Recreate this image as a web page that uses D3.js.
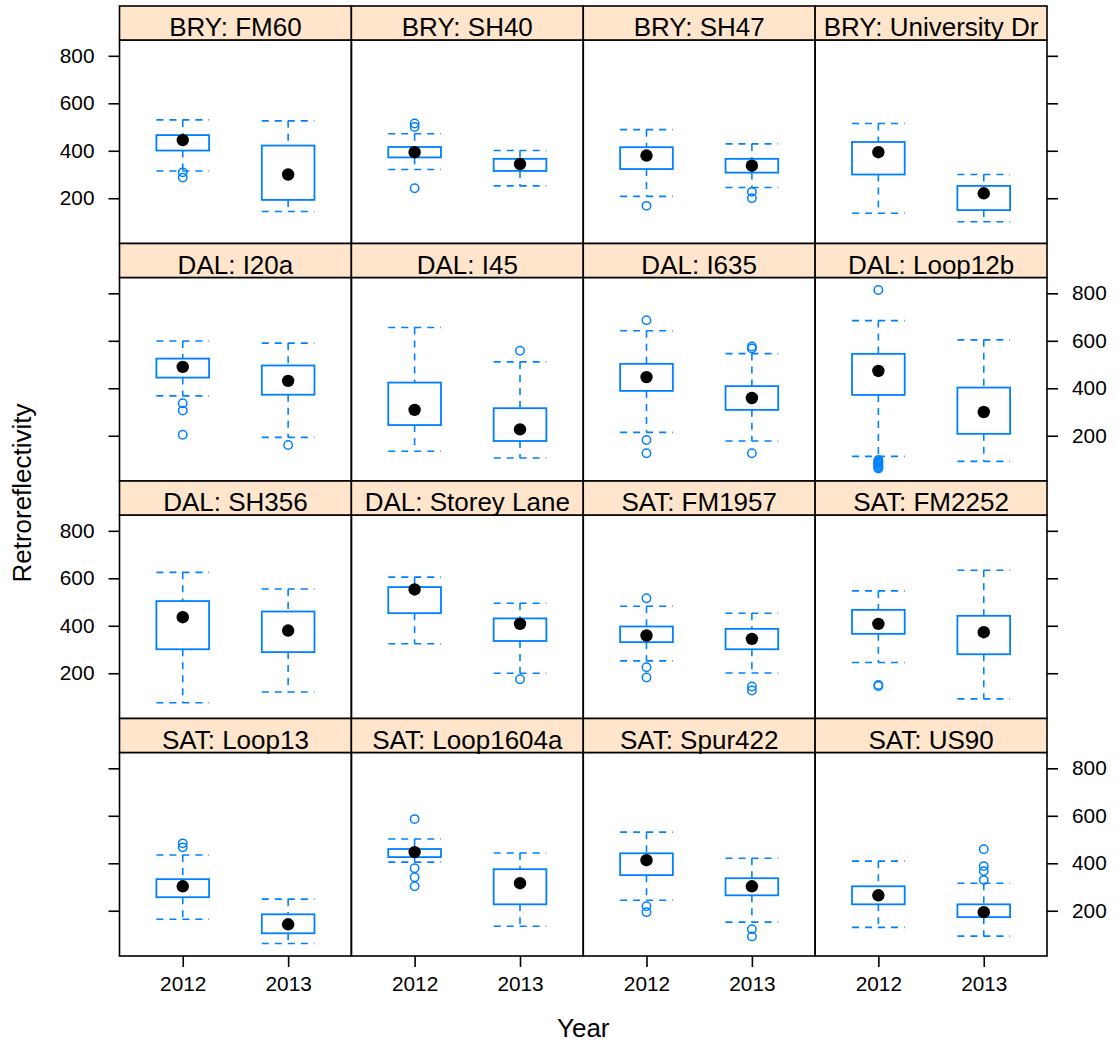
<!DOCTYPE html>
<html>
<head>
<meta charset="utf-8">
<script src="https://cdn.jsdelivr.net/npm/d3@7"></script>
<style>
  body { margin: 0; background: #fff; }
  svg { display: block; }
  text { font-family: "Liberation Sans", Arial, Helvetica, sans-serif; fill: #000; }
</style>
</head>
<body>
<svg id="chart" width="1119" height="1046"></svg>
<script>
// Sites, in panel order (left to right, top to bottom)
const sites = [
  "BRY: FM60", "BRY: SH40", "BRY: SH47", "BRY: University Dr",
  "DAL: I20a", "DAL: I45", "DAL: I635", "DAL: Loop12b",
  "DAL: SH356", "DAL: Storey Lane", "SAT: FM1957", "SAT: FM2252",
  "SAT: Loop13", "SAT: Loop1604a", "SAT: Spur422", "SAT: US90"
];
const years = ["2012", "2013"];

// Box statistics per site: [lower whisker, lower hinge, median, upper hinge, upper whisker]
const stats2012 = [
  [315, 401, 445, 466, 530], [321, 372, 394, 416, 472], [208, 323, 380, 415, 489], [137, 300, 394, 437, 515],
  [368, 445, 490, 525, 599], [135, 245, 309, 424, 656], [214, 389, 447, 503, 642], [113, 372, 473, 545, 685],
  [76, 301, 436, 504, 625],  [324, 453, 553, 563, 605], [252, 331, 359, 397, 482], [245, 366, 408, 467, 547],
  [164, 257, 303, 333, 435], [405, 426, 447, 460, 502], [244, 350, 413, 442, 531], [130, 227, 265, 303, 409]
];
const stats2013 = [
  [144, 193, 300, 422, 526], [252, 315, 344, 366, 401], [245, 308, 337, 366, 429], [101, 150, 221, 252, 300],
  [193, 373, 431, 496, 590], [106, 178, 227, 316, 511], [178, 309, 359, 409, 546], [92, 208, 300, 403, 604],
  [121, 289, 380, 460, 555], [200, 336, 408, 431, 495], [201, 301, 345, 387, 453], [92, 280, 373, 442, 634],
  [62, 105, 143, 185, 249],  [135, 227, 316, 375, 443], [152, 265, 303, 337, 421], [93, 173, 194, 227, 316]
];

// Points beyond the whiskers
const outliers2012 = [
  [309, 287], [515, 500, 242], [168], [],
  [337, 306, 204], [], [687, 182, 126], [814, 98, 92, 87, 82, 77, 72, 67, 62],
  [], [], [516, 225, 182], [151, 146],
  [484, 467], [586, 379, 341, 303], [219, 194], []
];
const outliers2013 = [
  [], [], [227, 200], [],
  [161], [558], [576, 568, 126], [],
  [], [175], [144, 127], [],
  [], [], [122, 92], [459, 388, 367, 329]
];

const yTicks = [200, 400, 600, 800];

// ---- layout ----
const nCols = 4, nRows = 4;
const plotLeft = 119.5, plotRight = 1047, plotTop = 6;
const colW = (plotRight - plotLeft) / nCols;
const rowH = 237.5, stripH = 34, panelH = rowH - stripH;
const boxCol = "#0080ff", stripFill = "#ffe5cc";

const svg = d3.select("#chart");

// shared y range: data extent padded by 7% each side
const allVals = [
  ...stats2012.flat(), ...stats2013.flat(),
  ...outliers2012.flat(), ...outliers2013.flat()
];
const [vMin, vMax] = d3.extent(allVals);
const pad = 0.07 * (vMax - vMin);
const yDomain = [vMin - pad, vMax + pad];

function styleAxis(a) {
  a.select(".domain").remove();
  a.selectAll("line").attr("stroke", "#000").attr("stroke-width", 1.6);
  a.selectAll("text").attr("font-size", 20.8).attr("fill", "#000")
    .attr("font-family", "'Liberation Sans', Arial, sans-serif");
}

sites.forEach((site, i) => {
  const col = i % nCols, row = Math.floor(i / nCols);
  const x0 = plotLeft + col * colW;
  const sTop = plotTop + row * rowH;
  const pTop = sTop + stripH;

  const x = d3.scalePoint().domain(years).range([x0, x0 + colW]).padding(0.6);
  const y = d3.scaleLinear().domain(yDomain).range([pTop + panelH, pTop]);
  const bw = x.step() * 0.5;

  const g = svg.append("g").attr("class", "panel");

  const series = [
    { year: "2012", s: stats2012[i], out: outliers2012[i] },
    { year: "2013", s: stats2013[i], out: outliers2013[i] }
  ];
  series.forEach(d => {
    const cx = x(d.year);
    const [wLo, q1, med, q3, wHi] = d.s;
    const dash = "7,6";
    // whiskers (dashed)
    g.append("line").attr("x1", cx).attr("x2", cx).attr("y1", y(wHi)).attr("y2", y(q3))
      .attr("stroke", boxCol).attr("stroke-width", 1.6).attr("stroke-dasharray", dash);
    g.append("line").attr("x1", cx).attr("x2", cx).attr("y1", y(q1)).attr("y2", y(wLo))
      .attr("stroke", boxCol).attr("stroke-width", 1.6).attr("stroke-dasharray", dash);
    [wHi, wLo].forEach(v => {
      g.append("line").attr("x1", cx - bw / 2).attr("x2", cx + bw / 2).attr("y1", y(v)).attr("y2", y(v))
        .attr("stroke", boxCol).attr("stroke-width", 1.6).attr("stroke-dasharray", dash);
    });
    // box
    g.append("rect").attr("x", cx - bw / 2).attr("y", y(q3))
      .attr("width", bw).attr("height", y(q1) - y(q3))
      .attr("fill", "none").attr("stroke", boxCol).attr("stroke-width", 1.8);
    // median dot
    g.append("circle").attr("cx", cx).attr("cy", y(med)).attr("r", 6.2).attr("fill", "#000");
    // outliers
    g.selectAll(null).data(d.out).enter().append("circle")
      .attr("cx", cx).attr("cy", v => y(v)).attr("r", 4.2)
      .attr("fill", "none").attr("stroke", boxCol).attr("stroke-width", 1.5);
  });

  // panel frame
  g.append("rect").attr("x", x0).attr("y", pTop).attr("width", colW).attr("height", panelH)
    .attr("fill", "none").attr("stroke", "#000").attr("stroke-width", 1.6);

  // strip
  g.append("rect").attr("x", x0).attr("y", sTop).attr("width", colW).attr("height", stripH)
    .attr("fill", stripFill).attr("stroke", "#000").attr("stroke-width", 1.6);
  g.append("text").attr("x", x0 + colW / 2).attr("y", sTop + 30)
    .attr("text-anchor", "middle").attr("font-size", 26).text(site);

  // y axes: labels alternate left / right by row
  const labelLeft = row % 2 === 0;
  if (col === 0) {
    const ax = d3.axisLeft(y).tickValues(yTicks).tickSize(11).tickSizeOuter(0).tickPadding(14);
    if (!labelLeft) ax.tickFormat(() => "");
    styleAxis(svg.append("g").attr("transform", `translate(${x0},0)`).call(ax));
  }
  if (col === nCols - 1) {
    const ax = d3.axisRight(y).tickValues(yTicks).tickSize(11).tickSizeOuter(0).tickPadding(14);
    if (labelLeft) ax.tickFormat(() => "");
    styleAxis(svg.append("g").attr("transform", `translate(${x0 + colW},0)`).call(ax));
  }
  // x axis under the bottom row
  if (row === nRows - 1) {
    const ax = d3.axisBottom(x).tickSize(11).tickSizeOuter(0).tickPadding(9);
    styleAxis(svg.append("g").attr("transform", `translate(0,${pTop + panelH})`).call(ax));
  }
});

// axis titles
svg.append("text").attr("x", (plotLeft + plotRight) / 2).attr("y", 1037)
  .attr("text-anchor", "middle").attr("font-size", 26).text("Year");
svg.append("text").attr("transform", "translate(31,493) rotate(-90)")
  .attr("text-anchor", "middle").attr("font-size", 26).text("Retroreflectivity");
</script>
</body>
</html>
